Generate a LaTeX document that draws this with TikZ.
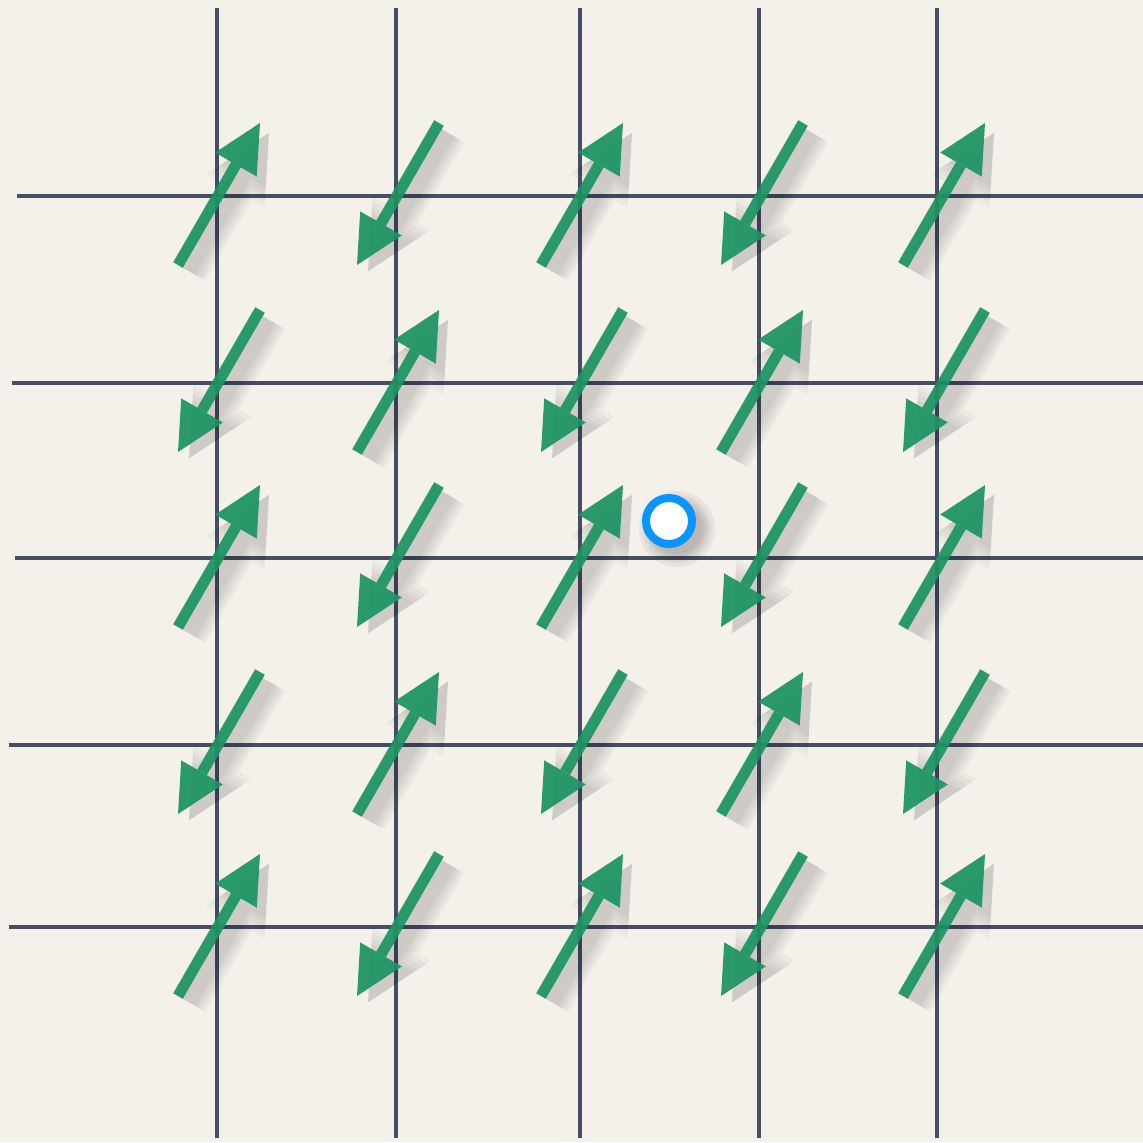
\documentclass[tikz,border=0pt]{standalone}
\usepackage{xcolor}
\usepackage{tikz}
\usetikzlibrary{arrows.meta, calc}
\definecolor{lattice-paper}{RGB}{244,241,235}
\definecolor{lattice-line}{RGB}{70,78,100}
\definecolor{spin-green}{RGB}{28,148,98}
\definecolor{hole-blue}{RGB}{8,150,250}

\begin{document}
\begin{tikzpicture}[
    x=0.01cm, y=-0.01cm,
    bond/.style={lattice-line, line width=0.045cm},
    spin/.style={spin-green, line width=0.11cm,
                 -{Triangle[length=0.48cm, width=0.48cm, line width=0pt]}},
    spinshade/.style 2 args={black, opacity=0.03, line width=#1,
                      -{Triangle[length=0.48cm, width=0.48cm, line width=0pt, scale=#2]}},
    hole/.style={circle, draw=hole-blue, fill=white, line width=0.08cm,
                 minimum size=0.46cm, inner sep=0pt},
  ]
    % paper
    \fill[lattice-paper] (0,0) rectangle (1143,1142);
    \useasboundingbox (0,0) rectangle (1143,1142);

    % lattice bonds
    \foreach \x in {217,396,580,759,937}
      \draw[bond] (\x,8) -- (\x,1138);
    \foreach \y/\xs in {196/17,383/12,558/15,745/9,927/9}
      \draw[bond] (\xs,\y) -- (1143,\y);

    % spins, alternating up/down
    \foreach \c/\x in {0/219,1/398,2/582,3/762,4/944}
      \foreach \r/\y in {0/194,1/381,2/556,3/743,4/925} {
        \pgfmathtruncatemacro\flip{mod(\c+\r,2)}
        \pgfmathsetmacro\ang{-60+180*\flip}
        \coordinate (spin-\c-\r) at (\x,\y);
        \foreach \w/\s in {0.38cm/1.4,0.32cm/1.3,0.26cm/1.2,0.20cm/1.1,0.14cm/1.02}
          \draw[spinshade={\w}{\s}] ($(spin-\c-\r)+(10,8)+(\ang+180:80)$)
            -- ($(spin-\c-\r)+(10,8)+(\ang:80)$);
        \begin{scope}[transparency group, opacity=0.93]
          \draw[spin] ($(spin-\c-\r)+(\ang+180:82)$) -- ($(spin-\c-\r)+(\ang:82)$);
        \end{scope}
      }

    % the hole
    \foreach \rr in {38,34,31,28,25}
      \fill[black, opacity=0.05] (677,529) circle (\rr);
    \node[hole] (hole) at (669,521) {};
  \end{tikzpicture}
\end{document}
